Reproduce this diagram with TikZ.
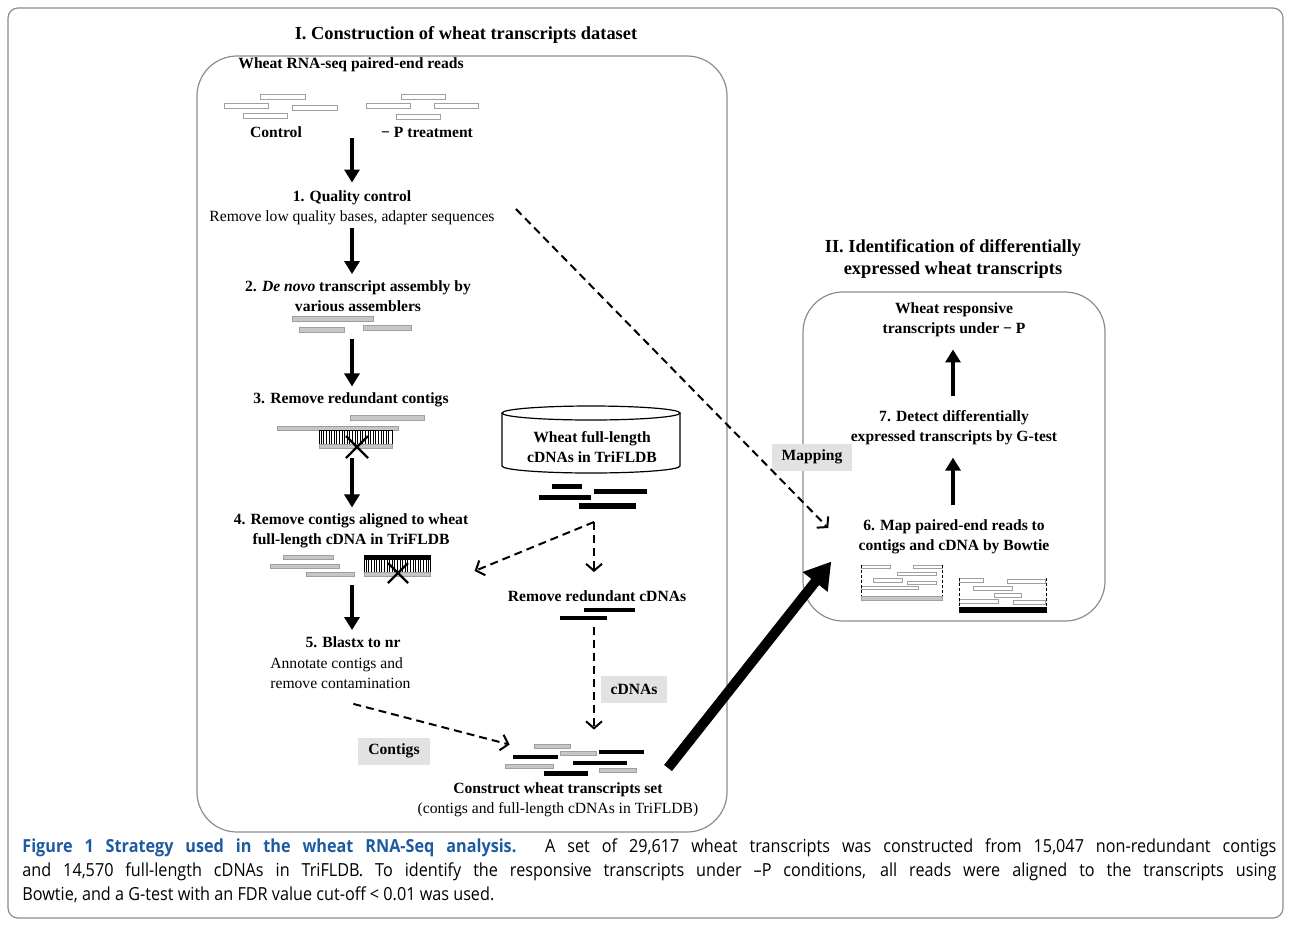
\documentclass[tikz,border=0pt]{standalone}
\usepackage{fontspec}
\setmainfont{Liberation Serif}
\newfontfamily\capfont[FakeStretch=0.9]{Open Sans}
\usetikzlibrary{arrows.meta,calc,positioning}
\definecolor{capblue}{RGB}{30,90,160}
\definecolor{boxgray}{RGB}{140,140,140}
\definecolor{tagfill}{RGB}{226,226,226}

\begin{document}
\begin{tikzpicture}[x=0.5pt,y=-0.5pt,
    every node/.style={inner sep=0pt,font=\fontsize{7.8}{10}\selectfont},
    stepname/.style={font=\fontsize{7.8}{10}\selectfont\bfseries,align=center},
    plaintext/.style={align=center},
    heading/.style={font=\fontsize{9.2}{11}\selectfont\bfseries,align=center},
    tagbox/.style={fill=tagfill,font=\fontsize{7.8}{10}\selectfont\bfseries,minimum height=13.5pt,inner xsep=5pt},
    hole/.style={minimum width=#1,minimum height=10pt},
    panel/.style={draw=boxgray,line width=0.6pt,rounded corners=20pt},
    bigarrow/.style={line width=2pt,-{Triangle[width=7.5pt,length=6.5pt]}},
    dasharrow/.style={line width=1pt,dash pattern=on 4pt off 2.5pt,-{Straight Barb[length=3.5pt,width=8pt,line width=1pt]}},
    readbar/.style={draw=gray!75,fill=white,line width=0.5pt},
    contigbar/.style={draw=gray!75,fill=gray!45,line width=0.5pt},
    cdnabar/.style={fill=black}]
  \useasboundingbox (0,0) rectangle (1290,928);
  \draw[boxgray,line width=0.6pt,rounded corners=5pt] (8,8) rectangle (1283,918);

  % panel I
  \node[heading] (titleI) at (466,35) {I. Construction of wheat transcripts dataset};
  \draw[panel] (197,56) rectangle (727,832);
  \node[stepname] (rnaseq) at (351,65) {Wheat RNA-seq paired-end reads};

  \draw[readbar] (260,94) rectangle (305,99);
  \draw[readbar] (224,103) rectangle (268,108);
  \draw[readbar] (292,105) rectangle (337,110);
  \draw[readbar] (243,113) rectangle (287,118);
  \draw[readbar] (401,94) rectangle (445,99);
  \draw[readbar] (366,103) rectangle (410,108);
  \draw[readbar] (434,103) rectangle (478,108);
  \draw[readbar] (396,114) rectangle (440,119);
  \node[stepname] (ctrl) at (276,132) {Control};
  \node[stepname] (ptreat) at (427,132) {− P treatment};

  \node[plaintext] (qc) at (352,208) {\textbf{1. Quality control}\\Remove low quality bases, adapter sequences};
  \node[stepname] (denovo) at (358,296) {2. \textit{De novo} transcript assembly by\\various assemblers};
  \draw[contigbar] (292,316) rectangle (373,321);
  \draw[contigbar] (299,327) rectangle (344,332);
  \draw[contigbar] (363,325) rectangle (411,330);
  \coordinate (asmout) at (352,339);

  \node[stepname] (rmred) at (351,400) {3. Remove redundant contigs};
  \draw[contigbar] (350,415) rectangle (424,420);
  \draw[contigbar] (277,426) rectangle (398,430);
  \foreach \x in {321,323.6,...,391}
    \draw[line width=0.3pt] (\x,430) -- (\x,444);
  \draw[line width=0.4pt] (319,430) rectangle (392,444);
  \draw[contigbar] (319,444) rectangle (392,448);
  \draw[line width=1.2pt] (346,436) -- (368,458) (346,458) -- (368,436);
  \coordinate (redout) at (352,458);

  \node[stepname] (rmalign) at (351,531) {4. Remove contigs aligned to wheat\\full-length cDNA in TriFLDB};
  \draw[contigbar] (283,555) rectangle (333,559);
  \draw[contigbar] (270,564) rectangle (339,568);
  \draw[contigbar] (306,572) rectangle (354,576);
  \draw[cdnabar] (364,555) rectangle (430,559);
  \foreach \x in {366,368.6,...,429}
    \draw[line width=0.3pt] (\x,559) -- (\x,572);
  \draw[line width=0.4pt] (364,559) rectangle (430,572);
  \draw[contigbar] (364,572) rectangle (430,576);
  \draw[line width=1.2pt] (388,563) -- (408,583) (388,583) -- (408,563);
  \coordinate (alnout) at (352,585);

  \node[stepname] (blastx) at (353,642) {5. Blastx to nr};
  \node[anchor=west,align=left] (annot) at (270,673) {Annotate contigs and\\remove contamination};

  % TriFLDB cylinder
  \draw[line width=0.6pt] (502,413) -- (502,466) arc[start angle=180,end angle=0,x radius=89,y radius=7] -- (680,413);
  \draw[line width=0.6pt] (591,413) ellipse[x radius=89,y radius=7];
  \node[stepname] (fldb) at (592,447) {Wheat full-length\\cDNAs in TriFLDB};
  \draw[cdnabar] (552,484) rectangle (581,488);
  \draw[cdnabar] (594,489) rectangle (646,493);
  \draw[cdnabar] (539,495) rectangle (590,499);
  \draw[cdnabar] (579,503) rectangle (635,508);
  \coordinate (fldbout) at (594,522);

  \node[stepname] (rmcdna) at (597,596) {Remove redundant cDNAs};
  \draw[cdnabar] (584,608) rectangle (634,611);
  \draw[cdnabar] (560,616) rectangle (606,619);
  \coordinate (cdnaout) at (594,627);
  \node[tagbox] (cdnatag) at (634,689) {cDNAs};
  \node[tagbox] (contigtag) at (394,751) {Contigs};

  \node[hole=69pt] (tset) at (574,759) {};
  \draw[contigbar] (534,744) rectangle (570,748);
  \draw[contigbar] (560,751) rectangle (596,755);
  \draw[cdnabar] (599,750) rectangle (643,753);
  \draw[cdnabar] (513,755) rectangle (557,758);
  \draw[cdnabar] (573,761) rectangle (626,764);
  \draw[contigbar] (505,764) rectangle (553,768);
  \draw[contigbar] (599,768) rectangle (636,772);
  \draw[cdnabar] (544,771) rectangle (587,775);
  \node[plaintext] (construct) at (558,800) {\textbf{Construct wheat transcripts set}\\(contigs and full-length cDNAs in TriFLDB)};
  \coordinate (tsetout) at (668,768);

  % panel II
  \node[heading] (titleII) at (953,259) {II. Identification of differentially\\expressed wheat transcripts};
  \draw[panel] (803,292) rectangle (1105,621);
  \node[stepname] (respons) at (954,320) {Wheat responsive\\transcripts under − P};
  \node[stepname] (gtest) at (954,428) {7. Detect differentially\\expressed transcripts by G-test};
  \node[stepname] (bowtie) at (954,537) {6. Map paired-end reads to\\contigs and cDNA by Bowtie};
  \node[tagbox] (maptag) at (812,457) {Mapping};

  \draw[readbar] (861,565) rectangle (890,568);
  \draw[readbar] (913,565) rectangle (942,568);
  \draw[readbar] (897,572) rectangle (936,575);
  \draw[readbar] (873,578) rectangle (902,582);
  \draw[readbar] (907,581) rectangle (936,584);
  \draw[readbar] (861,586) rectangle (918,589);
  \draw[line width=0.4pt,dash pattern=on 1.5pt off 1pt] (861,565) -- (861,596) (942,565) -- (942,596);
  \draw[contigbar] (861,596) rectangle (942,600);
  \draw[readbar] (959,578) rectangle (983,582);
  \draw[readbar] (1007,579) rectangle (1045,583);
  \draw[readbar] (973,586) rectangle (1012,590);
  \draw[readbar] (994,593) rectangle (1021,597);
  \draw[readbar] (959,599) rectangle (998,603);
  \draw[readbar] (1013,600) rectangle (1045,604);
  \draw[line width=0.4pt,dash pattern=on 1.5pt off 1pt] (959,578) -- (959,607) (1046,578) -- (1046,607);
  \draw[cdnabar] (959,607) rectangle (1046,612);

  % connectors
  \draw[bigarrow] (qc.north |- ctrl.south) -- ($(qc.north)+(0,-8)$);
  \draw[bigarrow] ($(qc.south)+(0,2)$) -- ($(qc.south |- denovo.north)+(0,-6)$);
  \draw[bigarrow] (asmout) -- ($(rmred.north -| asmout)+(0,-6)$);
  \draw[bigarrow] (redout) -- ($(rmalign.north -| redout)+(0,-6)$);
  \draw[bigarrow] (alnout) -- ($(blastx.north -| alnout)+(0,-6)$);
  \draw[bigarrow] ($(gtest.north)+(-1,-14)$) -- ($(respons.south)+(-1,12)$);
  \draw[bigarrow] ($(bowtie.north)+(-1,-14)$) -- ($(gtest.south)+(-1,12)$);
  \draw[dasharrow] (fldbout) -- ($(rmalign.east)+(6,40)$);
  \draw[dasharrow] (fldbout) -- ($(fldbout |- rmcdna.north)+(0,-18)$);
  \draw[dasharrow] (cdnaout) -- ($(tset.north -| cdnaout)+(0,-19)$);
  \draw[dasharrow] ($(annot.south)+(13,15)$) -- ($(tset.north west)+(5,-4)$);
  \draw[dasharrow] ($(qc.east)+(21,1)$) -- ($(bowtie.west)+(-30,-9)$);
  \draw[line width=5pt,-{Triangle[width=15pt,length=13pt]}] (tsetout) -- ($(bowtie.south west)+(-27,7)$);

  % caption
  \node[anchor=north west,align=left,font=\capfont\fontsize{9}{12}\selectfont] (caption) at (22,838)
    {\makebox[627pt][s]{\textcolor{capblue}{\bfseries Figure 1 Strategy used in the wheat RNA-Seq analysis.} A set of 29,617 wheat transcripts was constructed from 15,047 non-redundant contigs}\\
     \makebox[627pt][s]{and 14,570 full-length cDNAs in TriFLDB. To identify the responsive transcripts under –P conditions, all reads were aligned to the transcripts using}\\
     Bowtie, and a G-test with an FDR value cut-off < 0.01 was used.};
\end{tikzpicture}
\end{document}
